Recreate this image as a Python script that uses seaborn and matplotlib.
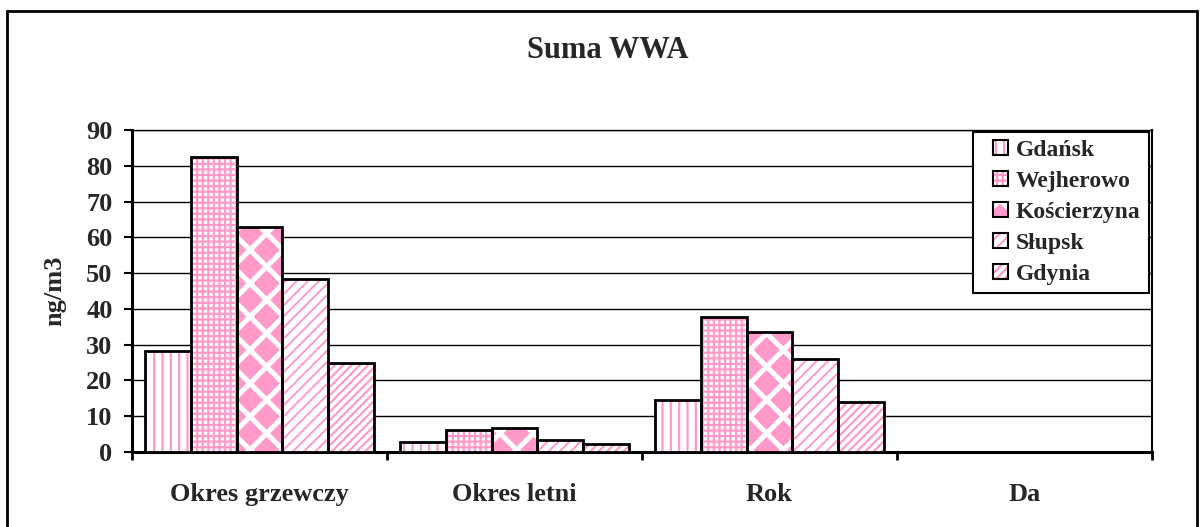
import numpy as np
import pandas as pd
import matplotlib
matplotlib.use("Agg")
import matplotlib.pyplot as plt
import seaborn as sns
from matplotlib.patches import Rectangle, Patch

# ================================
# DATA
# ================================
okresy = ["Okres grzewczy", "Okres letni", "Rok", "Da"]
miasta = ["Gdańsk", "Wejherowo", "Kościerzyna", "Słupsk", "Gdynia"]

gdansk = [28.2, 2.8, 14.5, 0]
wejherowo = [82.5, 6.1, 37.7, 0]
koscierzyna = [62.9, 6.7, 33.6, 0]
slupsk = [48.3, 3.3, 26.0, 0]
gdynia = [24.8, 2.3, 14.0, 0]

y_ticks = [0, 10, 20, 30, 40, 50, 60, 70, 80, 90]

PINK = "#FF9ACB"
# (hatch, face, hatch colour, hatch linewidth)
styles = [
    ("||", "white", PINK, 1.6),
    ("+++", "white", PINK, 1.6),
    ("x", PINK, "white", 3.6),
    ("///", "white", PINK, 1.4),
    ("////", "white", PINK, 1.6),
]

# ================================
# STYLE
# ================================
sns.set_theme(style="white")
plt.rcParams["font.family"] = ["Liberation Serif", "DejaVu Serif"]
plt.rcParams["font.weight"] = "bold"
plt.rcParams["hatch.linewidth"] = 1.6

df = pd.DataFrame({
    "okres": okresy * 5,
    "miasto": np.repeat(miasta, len(okresy)),
    "wartosc": gdansk + wejherowo + koscierzyna + slupsk + gdynia,
})


def style_patch(p, st):
    h, fc, hc, hlw = st
    p.set_facecolor(fc)
    p.set_hatch(h)
    p.set_edgecolor(hc)
    p.set_linewidth(0)
    if hasattr(p, "set_hatch_linewidth"):
        p.set_hatch_linewidth(hlw)


class SquareHandler:
    # small hatched square at the right side of the handle box
    def legend_artist(self, legend, orig_handle, fontsize, handlebox):
        w, h = handlebox.width, handlebox.height
        x0 = -handlebox.xdescent + w - h
        y0 = -handlebox.ydescent
        tr = handlebox.get_transform()
        fill = Rectangle((x0, y0), h, h, transform=tr)
        style_patch(fill, orig_handle.st)
        edge = Rectangle((x0, y0), h, h, fill=False, ec="black", lw=1.5, transform=tr)
        handlebox.add_artist(fill)
        handlebox.add_artist(edge)
        return edge


fig = plt.figure(figsize=(12.02, 5.27), dpi=100)
ax = fig.add_axes([132 / 1202, 1 - 452 / 527, 1020 / 1202, 322 / 527])

sns.barplot(data=df, x="okres", y="wartosc", hue="miasto", order=okresy,
            hue_order=miasta, palette=["white"] * 5, width=0.9,
            errorbar=None, ax=ax, zorder=3)

# hatches, black outlines on top
for cont, st in zip(ax.containers, styles):
    for p in cont:
        style_patch(p, st)
        ax.add_patch(Rectangle(p.get_xy(), p.get_width(), p.get_height(),
                               fill=False, ec="black", lw=2, zorder=4))

ax.set_ylim(0, 90)
ax.set_xlim(-0.5, 3.5)
ax.set_yticks(y_ticks)
ax.set_yticklabels([str(v) for v in y_ticks], fontsize=19, fontweight="bold")
ax.set_xticks(range(len(okresy)))
ax.set_xticklabels(okresy, fontsize=19, fontweight="bold")
ax.set_xticks(np.arange(-0.5, 4, 1), minor=True)
ax.tick_params(axis="x", which="major", length=0, pad=22)
ax.tick_params(axis="x", which="minor", length=6, width=2, color="black", direction="out", bottom=True)
ax.tick_params(axis="y", length=6, width=1.5, color="black", direction="out", left=True, pad=8)
ax.grid(axis="y", color="black", lw=1, zorder=0)
ax.set_axisbelow(True)

ax.set_xlabel("")
ax.set_ylabel("ng/m3", fontsize=19, fontweight="bold")
ax.yaxis.set_label_coords(-0.064, 0.5)

for s in ["left", "bottom"]:
    ax.spines[s].set_color("black")
    ax.spines[s].set_linewidth(2.2)
ax.spines["right"].set_color("black")
ax.spines["right"].set_linewidth(1.5)
ax.spines["top"].set_color("black")
ax.spines["top"].set_linewidth(1)

# legend
handles = []
for st in styles:
    hp = Patch()
    hp.st = st
    handles.append(hp)
leg = ax.legend(handles, miasta, handler_map={Patch: SquareHandler()},
                loc="upper right", bbox_to_anchor=(0.997, 0.995), borderaxespad=0,
                prop={"family": "Liberation Serif", "weight": "bold", "size": 17},
                handlelength=1.1, handleheight=0.6, handletextpad=0.35,
                labelspacing=0.42, borderpad=0.35, fancybox=False, framealpha=1,
                edgecolor="black")
leg.get_frame().set_linewidth(1.5)
leg.set_zorder(10)

fig.text(0.506, 1 - 50 / 527, "Suma WWA", ha="center", va="center",
         fontsize=22, fontweight="bold")

fig.add_artist(Rectangle((7 / 1202, -0.02), 1190 / 1202, 1 - 11 / 527 + 0.02,
                         transform=fig.transFigure, fill=False, ec="black", lw=2))

fig.savefig("out.png", dpi=100)
